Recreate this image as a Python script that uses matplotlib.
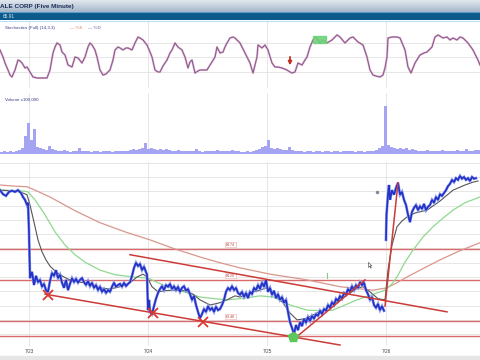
import matplotlib
matplotlib.use("Agg")
import matplotlib.pyplot as plt
import numpy as np
from matplotlib.patches import Rectangle
from matplotlib.path import Path
from matplotlib.colors import LinearSegmentedColormap

# ---------------- data ----------------
day_pos = [29, 148, 267, 386]
day_labels = ["7/23", "7/24", "7/25", "7/26"]

# price (five-minute closes), time index
price_t = [0, 3, 6, 9, 12, 15, 18, 21, 23, 25, 27, 28, 29, 30, 32, 34, 36, 38, 40, 42, 44, 46, 48,
           50, 52, 54, 56, 58, 60, 62, 64, 66, 68, 70, 72, 74, 76, 78, 80, 82, 84, 86, 88, 90, 92, 94,
           96, 98, 100, 102, 104, 106, 108, 110, 112, 114, 116, 118, 120, 122, 124, 126, 128, 130,
           132, 134, 136, 138, 140, 142, 144, 146, 147, 148, 149, 150, 152, 154, 156, 158, 160, 162,
           164, 166, 168, 170, 172, 174, 176, 178, 180, 182, 184, 186, 188, 190, 192, 194, 196, 198,
           200, 202, 204, 206, 208, 210, 212, 214, 216, 218, 220, 222, 224, 226, 228, 230, 232, 234,
           236, 238, 240, 242, 244, 246, 248, 250, 252, 254, 256, 258, 260, 262, 264, 266, 268, 270,
           272, 274, 276, 278, 280, 282, 284, 286, 288, 290, 292, 294, 296, 298, 300, 302, 304, 306,
           308, 310, 312, 314, 316, 318, 320, 322, 324, 326, 328, 330, 332, 334, 336, 338, 340, 342,
           344, 346, 348, 350, 352, 354, 356, 358, 360, 362, 364, 366, 368, 370, 372, 374, 376, 378,
           380, 382, 384, 385, 386, 386.5, 388, 389, 390, 392, 394, 396, 398, 400, 402, 404, 406, 408,
           410, 412, 414, 416, 418, 420, 422, 424, 426, 428, 430, 432, 434, 436, 438, 440, 442, 444,
           446, 448, 450, 452, 454, 456, 458, 460, 462, 464, 466, 468, 470, 472, 474, 476]
price = [65.77, 65.70, 65.67, 65.74, 65.76, 65.74, 65.77, 65.72, 65.65, 65.60, 65.51, 65.55, 65.04,
         64.23, 64.34, 64.11, 64.27, 64.16, 64.20, 64.08, 64.13, 64.02, 63.99,
         64.18, 64.32, 64.27, 64.37, 64.23, 64.29, 64.15, 64.06, 64.20, 64.02, 64.13, 64.23, 64.16,
         64.22, 64.15, 64.20, 64.23, 64.16, 64.11, 64.18, 64.09, 64.15, 64.06,
         64.11, 64.02, 64.08, 63.99, 64.04, 63.97, 64.02, 63.99, 64.08, 64.15, 64.08, 64.11, 64.13,
         64.08, 64.15, 64.09, 64.13, 64.16,
         64.27, 64.41, 64.50, 64.44, 64.48, 64.37, 64.43, 64.34, 64.29, 63.67, 63.85, 63.64, 63.60,
         63.74, 63.87, 63.97, 64.04, 64.09,
         64.02, 64.11, 64.08, 64.13, 64.04, 64.09, 64.02, 64.08, 63.99, 64.06, 64.09, 64.01, 64.04,
         63.95, 63.85, 63.92, 63.76, 63.64,
         63.53, 63.60, 63.69, 63.64, 63.74, 63.67, 63.71, 63.64, 63.73, 63.67, 63.69, 63.76, 63.85,
         63.99, 64.06, 64.02, 64.09, 64.02,
         64.06, 63.97, 63.94, 63.99, 63.90, 63.97, 63.88, 63.99, 63.95, 64.06, 64.02, 64.11, 64.04,
         64.15, 64.08, 64.20, 63.99, 64.06,
         63.94, 64.01, 63.88, 63.95, 63.85, 63.90, 63.80, 63.85, 63.64, 63.46, 63.36, 63.25, 63.41,
         63.32, 63.46, 63.39, 63.52, 63.45,
         63.55, 63.48, 63.57, 63.52, 63.60, 63.57, 63.66, 63.60, 63.69, 63.66, 63.76, 63.71, 63.81,
         63.76, 63.87, 63.83, 63.92, 63.87,
         63.97, 63.94, 64.04, 63.99, 64.09, 64.02, 64.11, 64.06, 64.16, 64.11, 64.15, 64.02, 63.95,
         63.85, 63.90, 63.76, 63.71, 63.78,
         63.67, 63.74, 63.66, np.nan, 64.90, 65.34, 65.69, 65.86, 65.60, 65.77, 65.69, 65.81, 65.90,
         65.69, 65.74, 65.60, 65.51, 65.34,
         65.21, 65.39, 65.46, 65.51, 65.42, 65.49, 65.44, 65.53, 65.42, 65.48, 65.51, 65.60, 65.55,
         65.65, 65.60, 65.70, 65.67, 65.72,
         65.77, 65.84, 65.88, 65.95, 65.91, 65.98, 65.95, 66.02, 65.97, 66.00, 65.95, 65.98, 65.93,
         66.00, 65.97, 65.98]

ma_short_t = [0, 10, 20, 27, 30, 34, 38, 42, 46, 50, 56, 64, 72, 80, 90, 100, 110, 120, 130, 137,
              143, 147, 152, 158, 165, 173, 185, 193, 200, 210, 220, 227, 235, 240, 250, 260, 266,
              272, 283, 290, 297, 305, 317, 330, 340, 350, 358, 363, 370, 378, 385, 388, 392, 397,
              402, 407, 415, 427, 440, 453, 465, 473, 478]
ma_short = [65.77, 65.76, 65.74, 65.69, 65.51, 65.21, 64.90, 64.69, 64.55, 64.44, 64.34, 64.25,
            64.18, 64.16, 64.13, 64.06, 64.04, 64.08, 64.15, 64.25, 64.30, 64.25, 64.08, 63.99,
            64.01, 64.02, 64.01, 63.95, 63.85, 63.76, 63.80, 63.85, 63.92, 63.90, 63.97, 64.02,
            64.06, 63.97, 63.80, 63.62, 63.50, 63.52, 63.62, 63.74, 63.85, 63.97, 64.06, 64.08,
            63.99, 63.87, 63.85, 64.37, 64.81, 65.13, 65.23, 65.30, 65.37, 65.42, 65.58, 65.77,
            65.86, 65.91, 65.93]

ma_mid_t = [0, 20, 28, 35, 45, 55, 65, 75, 85, 100, 115, 133, 148, 158, 167, 180, 200, 215, 227,
            245, 260, 273, 290, 307, 320, 333, 345, 357, 372, 385, 392, 397, 405, 413, 423, 433,
            443, 453, 465, 480]
ma_mid = [65.77, 65.76, 65.74, 65.60, 65.34, 65.04, 64.81, 64.64, 64.51, 64.37, 64.29, 64.25,
          64.23, 64.15, 64.08, 64.01, 63.90, 63.87, 63.85, 63.88, 63.92, 63.90, 63.76, 63.67,
          63.66, 63.67, 63.76, 63.85, 63.94, 64.02, 64.13, 64.25, 64.51, 64.72, 64.95, 65.13,
          65.28, 65.42, 65.55, 65.65]

ma_long_t = [0, 15, 27, 35, 50, 75, 100, 125, 150, 175, 200, 220, 240, 270, 307, 340, 373, 387,
             397, 407, 420, 440, 460, 480]
ma_long = [65.86, 65.84, 65.83, 65.77, 65.65, 65.41, 65.20, 65.04, 64.90, 64.74, 64.60, 64.50,
           64.41, 64.30, 64.20, 64.08, 64.02, 64.06, 64.15, 64.25, 64.37, 64.55, 64.71, 64.85]

levels = [64.74, 64.20, 63.48, 63.22]
level_labels = ["64.74", "64.20", "63.48", None]

trend_t = [(45, 340), (130, 447), (293, 365), (385, 398)]
trend_p = [(63.95, 63.06), (64.64, 63.64), (63.15, 64.20), (63.74, 65.90)]

cross_t = [48, 153, 203]
cross_p = [63.94, 63.62, 63.46]
green_t, green_p = 293, 63.20

stoch_t = [0, 3, 5, 8, 10, 12, 15, 18, 20, 22, 25, 27, 30, 33, 37, 40, 44, 47, 50, 53, 55, 57, 60,
           62, 65, 68, 70, 72, 75, 78, 82, 85, 88, 90, 92, 95, 97, 100, 103, 106, 110, 113, 115,
           118, 120, 123, 126, 128, 132, 135, 138, 140, 143, 147, 150, 152, 155, 158, 160, 163,
           167, 170, 172, 175, 178, 182, 185, 188, 190, 192, 195, 198, 200, 204, 207, 210, 212,
           215, 217, 220, 223, 225, 227, 230, 233, 235, 240, 245, 250, 253, 255, 257, 258, 262,
           265, 268, 272, 275, 278, 282, 287, 290, 292, 295, 298, 302, 305, 307, 310, 313, 316,
           318, 320, 323, 327, 332, 337, 340, 345, 350, 353, 358, 363, 367, 370, 373, 376, 380,
           383, 385, 387, 388, 392, 397, 400, 405, 408, 411, 415, 420, 424, 427, 432, 435, 438,
           443, 447, 450, 453, 457, 460, 463, 468, 473, 478, 480]
stoch_k = [65.5, 51.0, 38.6, 24.1, 13.8, 9.7, 24.1, 44.8, 42.8, 38.6, 28.3, 30.3, 20.0, 9.7, 7.6,
           7.6, 7.6, 7.6, 24.1, 59.3, 71.7, 80.0, 75.9, 61.4, 55.2, 34.5, 32.4, 30.3, 51.0, 49.0,
           38.6, 51.0, 71.7, 80.0, 75.9, 65.5, 51.0, 24.1, 13.8, 15.9, 24.1, 44.8, 65.5, 71.7,
           69.7, 65.5, 69.7, 69.7, 65.5, 80.0, 92.4, 90.3, 86.2, 75.9, 61.4, 51.0, 24.1, 20.0,
           20.0, 32.4, 44.8, 59.3, 65.5, 80.0, 71.7, 65.5, 51.0, 28.3, 40.7, 44.8, 17.9, 22.1,
           24.1, 24.1, 24.1, 34.5, 40.7, 51.0, 71.7, 59.3, 61.4, 71.7, 80.0, 90.3, 92.4, 90.3,
           80.0, 59.3, 38.6, 17.9, 34.5, 51.0, 75.9, 69.7, 75.9, 65.5, 38.6, 30.3, 30.3, 28.3,
           24.1, 20.0, 17.9, 20.0, 38.6, 34.5, 44.8, 51.0, 71.7, 86.2, 92.4, 86.2, 80.0, 86.2,
           80.0, 86.2, 96.6, 92.4, 80.0, 90.3, 92.4, 82.1, 75.9, 51.0, 24.1, 13.8, 11.7, 9.7,
           13.8, 28.3, 51.0, 90.3, 92.4, 92.4, 90.3, 65.5, 30.3, 17.9, 38.6, 55.2, 59.3, 61.4,
           71.7, 92.4, 96.6, 90.3, 92.4, 86.2, 90.3, 86.2, 92.4, 90.3, 80.0, 65.5, 44.8, 34.5]
stoch_levels = [20, 50, 80]

# volume, x100,000 shares, one value per 3 time units
volume = [0.25, 0.3, 0.25, 0.3, 0.25, 0.3, 0.4, 0.6, 1.8, 3.1,
          1.4, 2.5, 0.7, 0.6, 0.5, 0.4, 0.8, 0.5, 0.4, 0.3,
          0.3, 0.4, 0.3, 0.25, 0.3, 0.3, 0.6, 0.3, 0.35, 0.3,
          0.25, 0.3, 0.3, 0.25, 0.3, 0.35, 0.3, 0.25, 0.3, 0.3,
          0.3, 0.35, 0.3, 0.4, 0.5, 0.45, 0.5, 0.6, 1.1, 0.5,
          0.6, 0.5, 0.45, 0.5, 0.4, 0.5, 0.4, 0.35, 0.3, 0.4,
          0.3, 0.3, 0.35, 0.3, 0.3, 0.5, 0.3, 0.25, 0.3, 0.35,
          0.3, 0.35, 0.4, 0.3, 0.3, 0.35, 0.3, 0.4, 0.3, 0.3,
          0.25, 0.2, 0.3, 0.25, 0.3, 0.4, 0.5, 0.7, 0.8, 1.4,
          0.6, 0.5, 0.6, 0.5, 0.45, 0.4, 0.7, 0.4, 0.35, 0.3,
          0.3, 0.25, 0.3, 0.3, 0.25, 0.3, 0.35, 0.25, 0.3, 0.3,
          0.25, 0.3, 0.3, 0.25, 0.3, 0.3, 0.35, 0.3, 0.25, 0.3,
          0.3, 0.25, 0.3, 0.35, 0.3, 0.4, 0.6, 0.8, 4.8, 0.9,
          0.7, 0.6, 0.5, 0.6, 0.5, 0.6, 0.4, 0.5, 0.4, 0.35,
          0.35, 0.3, 0.4, 0.35, 0.3, 0.35, 0.3, 0.4, 0.3, 0.35,
          0.3, 0.35, 0.4, 0.3, 0.35, 0.5, 0.3, 0.35, 0.4, 0.45]
vol_t = [1.5 + 3 * i for i in range(len(volume))]

# ---------------- figure ----------------
W, H = 480, 360
fig = plt.figure(figsize=(4.8, 3.6), dpi=100)
fig.patch.set_facecolor("white")
FONT = ["Liberation Sans", "DejaVu Sans"]


def px_axes(x0, y0, x1, y1):
    return fig.add_axes([x0 / W, 1 - y1 / H, (x1 - x0) / W, (y1 - y0) / H])


def clean(ax):
    for s in ax.spines.values():
        s.set_visible(False)
    ax.tick_params(length=0)


# header gradient
axh = px_axes(0, 0, 480, 12)
grad = np.linspace(0, 1, 12).reshape(-1, 1)
cm = LinearSegmentedColormap.from_list("h", ["#dfe6ee", "#a8b8ca"])
axh.imshow(grad, aspect="auto", cmap=cm, extent=[0, 1, 0, 1])
axh.set_axis_off()
fig.text(0.5 / W, 1 - 6.5 / H, "ALE CORP (Five Minute)", fontsize=4.6, weight="bold",
         color="#1c2c58", va="center", family=FONT)

axb = px_axes(0, 12, 480, 20)
axb.set_facecolor("#0c5a8c")
axb.set_xticks([]); axb.set_yticks([])
for s in axb.spines.values():
    s.set_visible(False)
axb.axhline(0.95, color="#5c9cc8", lw=0.8)
fig.text(3 / W, 1 - 16 / H, "65.91", fontsize=3.4, color="#d8e8f4", va="center", family=FONT)
fig.add_artist(plt.Line2D([0, 1], [1 - 20.5 / H, 1 - 20.5 / H], color="#b8e0f4", lw=0.8))

grid_kw = dict(color="#e2e2e2", lw=0.6)

# stochastic
axs = px_axes(0, 22, 480, 88)
clean(axs)
axs.set_xlim(0, 480)
axs.set_ylim(-13.1, 123.4)
axs.set_xticks(day_pos); axs.set_xticklabels([])
axs.set_yticks(stoch_levels); axs.set_yticklabels([])
axs.grid(True, **grid_kw)
axs.set_axisbelow(True)
axs.plot(stoch_t, stoch_k, color="#eab0c0", lw=1.5, solid_joinstyle="round")
axs.plot(stoch_t, stoch_k, color="#7a5a9c", lw=0.7, solid_joinstyle="round")
axs.add_patch(Rectangle((313, 80), 13, 14.5, color="#6fd27a", alpha=0.9, zorder=3))
axs.annotate("", xy=(290, 28), xytext=(290, 57),
             arrowprops=dict(arrowstyle="-|>", color="#c42e22", lw=1.3, mutation_scale=5))
fig.text(5 / W, 1 - 28 / H, "Stochastics (Full) (14,3,3)", fontsize=3.2, color="#3b3b8c",
         va="center", family=FONT)
fig.text(70 / W, 1 - 28 / H, "\u2014 %K", fontsize=3.2, color="#e07a4a", va="center", family=FONT)
fig.text(88 / W, 1 - 28 / H, "\u2014 %D", fontsize=3.2, color="#6a4a9a", va="center", family=FONT)

# volume
axv = px_axes(0, 93, 480, 154)
clean(axv)
axv.set_xlim(0, 480)
axv.set_ylim(0, 6.1)
axv.set_xticks(day_pos); axv.set_xticklabels([])
axv.set_yticks([])
axv.grid(True, axis="x", **grid_kw)
axv.set_axisbelow(True)
axv.bar(vol_t, volume, width=2.2, color="#a4a4f2", linewidth=0)
fig.text(5 / W, 1 - 100 / H, "Volume x100,000", fontsize=3.2, color="#3b3b8c", va="center",
         family=FONT)

# price
axp = px_axes(0, 162, 480, 346)
clean(axp)
axp.set_xlim(0, 480)
axp.set_ylim(63.0425, 66.2625)
axp.set_xticks(day_pos)
axp.set_xticklabels(day_labels, fontsize=3.4, color="#444444", family=FONT)
axp.tick_params(axis="x", pad=2)
axp.set_yticks(np.arange(63.25, 66.3, 0.25)); axp.set_yticklabels([])
axp.grid(True, **grid_kw)
axp.set_axisbelow(True)

for lv, lb in zip(levels, level_labels):
    axp.axhline(lv, color="#d86a6a", lw=1.0, zorder=2)
    if lb:
        axp.text(226, lv + 0.075, lb, fontsize=2.6, color="#b04040", va="center", family=FONT,
                 bbox=dict(boxstyle="square,pad=0.2", fc="white", ec="#e8a8a8", lw=0.4), zorder=3)

axp.plot(ma_long_t, ma_long, color="#d9968c", lw=0.9, zorder=3)
axp.plot(ma_mid_t, ma_mid, color="#8fd98f", lw=0.9, zorder=3)
axp.plot(ma_short_t, ma_short, color="#555555", lw=0.8, zorder=4)

axp.plot(price_t, price, color="#8c9cf4", lw=2.0, zorder=5, solid_joinstyle="miter")
axp.plot(price_t, price, color="#2432c4", lw=1.2, zorder=6, solid_joinstyle="miter")

for (t0, t1), (p0, p1) in zip(trend_t, trend_p):
    axp.plot([t0, t1], [p0, p1], color="#cc3b36", lw=1.1, zorder=7)

axp.plot(cross_t, cross_p, "x", color="#d83a30", ms=7, mew=1.3, zorder=8)
axp.plot([green_t], [green_p], marker="p", color="#5cc85c", ms=7, zorder=8)
axp.plot([327, 327], [64.23, 64.32], color="#7ccf7c", lw=0.8, zorder=4)
axp.plot([377], [65.74], "o", color="#7a8a9a", ms=1.5, zorder=4)
cursor = Path([(0, 0), (0, -16), (4, -12), (7, -18), (9, -17), (6, -11), (11, -11), (0, 0)])
axp.plot([368], [64.51], marker=cursor, ms=8, mfc="white", mec="#666666", mew=0.5, zorder=9)

# status bar
fig.add_artist(Rectangle((0, 0), 1, 4 / H, transform=fig.transFigure, color="#e6e6e6"))

fig.savefig("out.png", dpi=100)
